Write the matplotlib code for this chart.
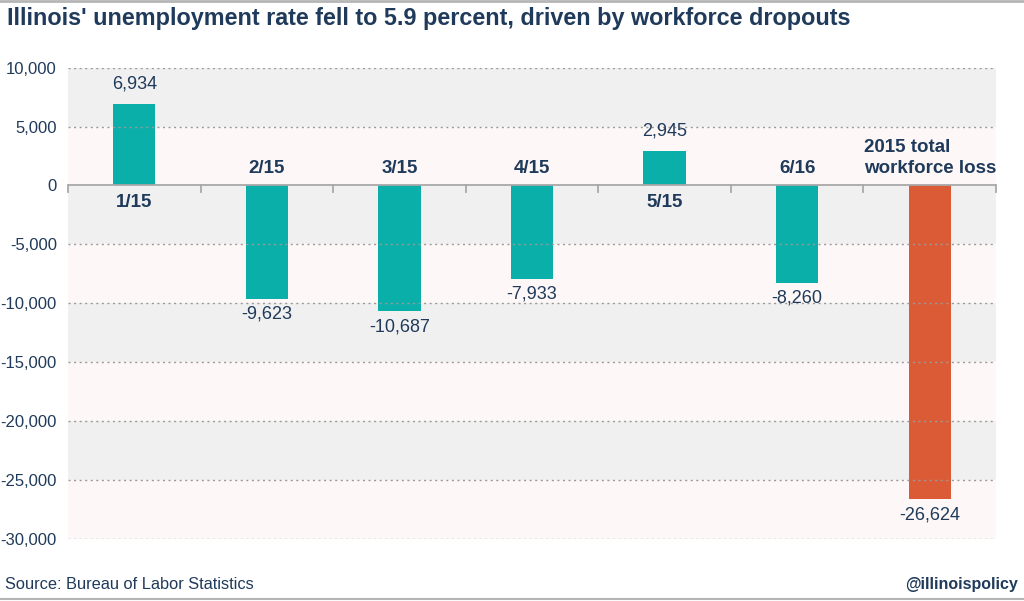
import matplotlib
matplotlib.use('Agg')
import matplotlib.pyplot as plt
from matplotlib.ticker import FuncFormatter

# data
categories = ['1/15', '2/15', '3/15', '4/15', '5/15', '6/16', '2015 total\nworkforce loss']
values = [6934, -9623, -10687, -7933, 2945, -8260, -26624]
bar_colors = ['#0aafa9'] * 6 + ['#dc5b37']

navy = '#1f3a5a'
plt.rcParams['font.family'] = ['Liberation Sans', 'DejaVu Sans']

fig = plt.figure(figsize=(10.24, 6.01), dpi=100)
ax = fig.add_axes([0.0664, 0.1032, 0.9063, 0.7842])

# background bands
for i, lo in enumerate(range(-30000, 10000, 5000)):
    ax.axhspan(lo, lo + 5000, color='#f1f0f1' if i % 2 else '#fdf8f7', zorder=0, lw=0)

x = list(range(len(categories)))
ax.bar(x, values, width=0.32, color=bar_colors, zorder=2)

# dotted gridlines on top of bars
for yv in range(-30000, 10001, 5000):
    if yv != 0:
        ax.axhline(yv, color='#9a9a9a', lw=1, ls=(0, (1.5, 2.5)), zorder=3)
ax.axhline(0, color='#a8a8a8', lw=1.3, zorder=3)

# tick marks at category boundaries on zero line
for b in range(len(categories) + 1):
    ax.plot([b - 0.5, b - 0.5], [0, -550], color='#a8a8a8', lw=1.3, zorder=3, clip_on=False)

ax.set_xlim(-0.5, len(categories) - 0.5)
ax.set_ylim(-30000, 10000)
ax.set_yticks(range(-30000, 10001, 5000))
ax.yaxis.set_major_formatter(FuncFormatter(lambda v, p: f'{int(v):,}'))
ax.tick_params(axis='y', length=0, labelsize=12, labelcolor=navy, pad=8)
ax.set_xticks([])
for s in ax.spines.values():
    s.set_visible(False)

for xi, v, c in zip(x, values, categories):
    if v >= 0:
        ax.annotate(f'{v:,}', (xi, v), xytext=(0, 8), textcoords='offset points',
                    ha='center', va='bottom', fontsize=13, color=navy)
        ax.annotate(c, (xi, 0), xytext=(0, -6), textcoords='offset points',
                    ha='center', va='top', fontsize=13.5, fontweight='bold', color=navy)
    else:
        ax.annotate(f'{v:,}', (xi, v), xytext=(0, -5), textcoords='offset points',
                    ha='center', va='top', fontsize=13, color=navy)
        ax.annotate(c, (xi, 0), xytext=(0, 6), textcoords='offset points',
                    ha='center', va='bottom', fontsize=13.5, fontweight='bold', color=navy,
                    multialignment='left', linespacing=1.35)

fig.text(0.007, 0.97, "Illinois' unemployment rate fell to 5.9 percent, driven by workforce dropouts",
         fontsize=16.8, fontweight='bold', color=navy, va='center')
fig.text(0.005, 0.028, 'Source: Bureau of Labor Statistics', fontsize=11.8,
         color=navy, va='center')
fig.text(0.994, 0.028, '@illinoispolicy', fontsize=11.5, fontweight='bold',
         color=navy, va='center', ha='right')

fig.add_artist(plt.Line2D([0, 1], [0.998, 0.998], color='#b5b5b5', lw=2))
fig.add_artist(plt.Line2D([0, 1], [0.004, 0.004], color='#b5b5b5', lw=1.5))

fig.savefig('out.png', dpi=100)
